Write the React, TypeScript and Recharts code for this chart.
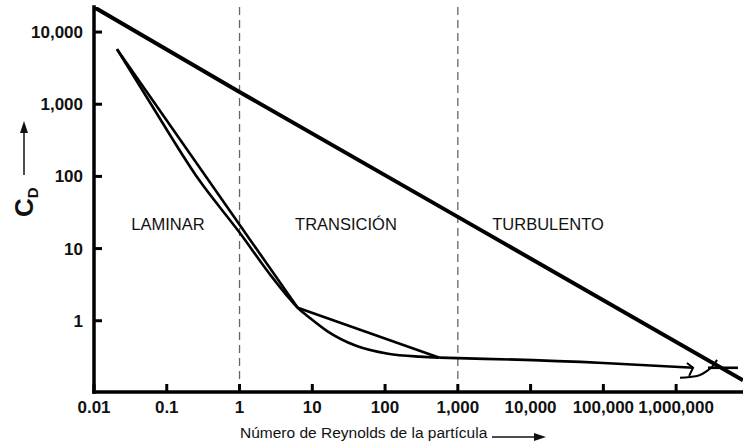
import { LineChart, Line, XAxis, YAxis, ReferenceLine } from "recharts";

const FONT = "'Liberation Sans', Arial, sans-serif";

// axis ticks
const reTicks = [0.01, 0.1, 1, 10, 100, 1000, 10000, 100000, 1000000];
const reTickLabels = ["0.01", "0.1", "1", "10", "100", "1,000", "10,000", "100,000", "1,000,000"];
const cdTicks = [1, 10, 100, 1000, 10000];
const cdTickLabels = ["1", "10", "100", "1,000", "10,000"];

// regime boundaries and names
const regimeBounds = [1, 1000];
const regimeNames = ["LAMINAR", "TRANSICIÓN", "TURBULENTO"];

// large diagonal line
const diagRe = [0.01, 1, 1000, 8.3e6];
const diagCd = [22200, 1480, 27.5, 0.15];

// straight-segment approximation
const stokesRe = [0.0207, 6.3];
const stokesCd = [5800, 1.51];
const interRe = [6.3, 560];
const interCd = [1.51, 0.308];
const flatRe = [560, 1000, 100000, 1.71e6];
const flatCd = [0.308, 0.304, 0.26, 0.223];

// smooth drag curve
const curveRe = [0.0207, 0.0585, 0.274, 1, 2.7, 5, 6.3, 9, 16, 40, 110, 300, 560];
const curveCd = [5800, 1066, 91, 16.7, 4.22, 1.96, 1.51, 1.12, 0.72, 0.45, 0.35, 0.318, 0.308];

// arrow head and drag crisis at the right end
const arrowRe = [1.41e6, 1.71e6, 1.51e6];
const arrowCd = [0.26, 0.223, 0.172];
const crisisRe = [1.13e6, 1.94e6, 2.66e6, 3.21e6, 3.65e6];
const crisisCd = [0.162, 0.172, 0.202, 0.237, 0.287];
const newtonRe = [2.74e6, 7.07e6];
const newtonCd = [0.223, 0.223];

const pts = (re: number[], cd: number[]) => re.map((r, i) => ({ re: r, cd: cd[i] }));

const labelFor = (ticks: number[], labels: string[], v: number) => {
  const i = ticks.findIndex((t) => Math.abs(Math.log10(t) - Math.log10(v)) < 1e-6);
  return i >= 0 ? labels[i] : String(v);
};

function YTick(props: any) {
  const { x, y, payload } = props;
  return (
    <g>
      <line x1={x + 11} x2={x + 19} y1={y} y2={y} stroke="#000" strokeWidth={3} />
      <text x={x} y={y + 6} textAnchor="end" fontFamily={FONT} fontSize={17} fontWeight="bold" fill="#111">
        {labelFor(cdTicks, cdTickLabels, payload.value)}
      </text>
    </g>
  );
}

function XTick(props: any) {
  const { x, y, payload } = props;
  return (
    <g>
      <line x1={x} x2={x} y1={y - 8} y2={y} stroke="#000" strokeWidth={3} />
      <text x={x} y={y + 21} textAnchor="middle" fontFamily={FONT} fontSize={17} fontWeight="bold" fill="#111">
        {labelFor(reTicks, reTickLabels, payload.value)}
      </text>
    </g>
  );
}

const axisLine = { stroke: "#000", strokeWidth: 3.5, strokeLinecap: "square" as const };

export default function App() {
  return (
    <div style={{ position: "absolute", left: 0, top: 0, background: "#fff" }}>
      <LineChart width={743} height={446} margin={{ top: 7, right: 0, bottom: 0, left: 0 }}>
        <XAxis
          dataKey="re"
          type="number"
          scale="log"
          domain={[0.01, 8.3e6]}
          allowDataOverflow
          ticks={reTicks}
          interval={0}
          height={54}
          tickSize={0}
          tickMargin={0}
          tick={XTick}
          axisLine={axisLine}
        />
        <YAxis
          dataKey="cd"
          type="number"
          scale="log"
          domain={[0.103, 22250]}
          allowDataOverflow
          ticks={cdTicks}
          interval={0}
          width={94}
          tickSize={0}
          tickMargin={11}
          tick={YTick}
          axisLine={axisLine}
        />
        {regimeBounds.map((b) => (
          <ReferenceLine key={b} x={b} stroke="#666" strokeWidth={1.3} strokeDasharray="8 5" />
        ))}
        <Line data={pts(diagRe, diagCd)} dataKey="cd" type="linear" stroke="#000" strokeWidth={4} dot={false} isAnimationActive={false} />
        <Line data={pts(stokesRe, stokesCd)} dataKey="cd" type="linear" stroke="#000" strokeWidth={2.6} dot={false} isAnimationActive={false} />
        <Line data={pts(interRe, interCd)} dataKey="cd" type="linear" stroke="#000" strokeWidth={2.6} dot={false} isAnimationActive={false} />
        <Line data={pts(flatRe, flatCd)} dataKey="cd" type="monotone" stroke="#000" strokeWidth={2.6} dot={false} isAnimationActive={false} />
        <Line data={pts(curveRe, curveCd)} dataKey="cd" type="monotone" stroke="#000" strokeWidth={2.6} dot={false} isAnimationActive={false} />
        <Line data={pts(arrowRe, arrowCd)} dataKey="cd" type="linear" stroke="#000" strokeWidth={2} dot={false} isAnimationActive={false} />
        <Line data={pts(crisisRe, crisisCd)} dataKey="cd" type="monotone" stroke="#000" strokeWidth={2} dot={false} isAnimationActive={false} />
        <Line data={pts(newtonRe, newtonCd)} dataKey="cd" type="linear" stroke="#000" strokeWidth={2.6} dot={false} isAnimationActive={false} />

        <g fontFamily={FONT} fontSize={16.5} fill="#111">
          <text x={168} y={230} textAnchor="middle">{regimeNames[0]}</text>
          <text x={346} y={230} textAnchor="middle">{regimeNames[1]}</text>
          <text x={548} y={230} textAnchor="middle">{regimeNames[2]}</text>
        </g>

        {/* y-axis title C_D with arrow */}
        <text transform="translate(33,217) rotate(-90)" fontFamily={FONT} fontSize={26} fontWeight="bold" fill="#111">
          C<tspan fontSize={15} dy={5}>D</tspan>
        </text>
        <line x1={24} y1={175} x2={24} y2={130} stroke="#111" strokeWidth={1.5} />
        <polygon points="24,121 20,133 28,133" fill="#111" />

        {/* x-axis title with arrow */}
        <text x={240} y={438} fontFamily={FONT} fontSize={15.5} fill="#111">
          Número de Reynolds de la partícula
        </text>
        <line x1={492} y1={437} x2={536} y2={437} stroke="#111" strokeWidth={1.5} />
        <polygon points="546,437 534,433 534,441" fill="#111" />
      </LineChart>
    </div>
  );
}
